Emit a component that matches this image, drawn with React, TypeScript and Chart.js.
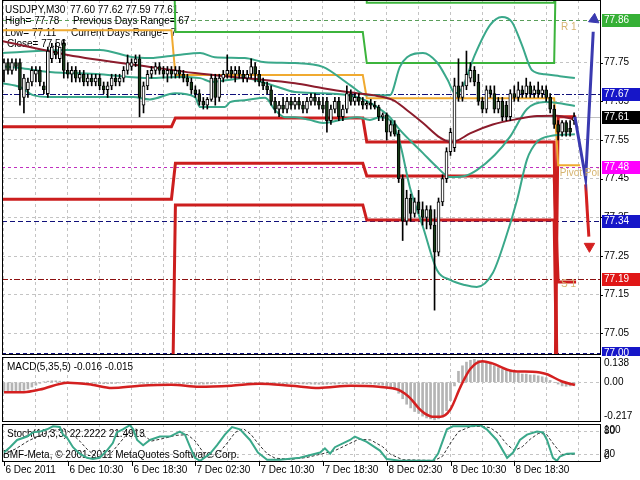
import { useEffect, useRef } from "react";
import { Chart, registerables } from "chart.js";
Chart.register(...registerables);

const FONT = "'Liberation Sans', Arial, sans-serif";

// ---------- candles (M30 bars, index 0..143) ----------
const OPEN = [
  77.73,77.75,77.73,77.75,77.75,77.66,77.68,77.70,77.72,77.73,
  77.69,77.67,77.76,77.78,77.76,77.80,77.73,77.72,77.73,77.71,
  77.72,77.70,77.71,77.70,77.71,77.69,77.68,77.69,77.71,77.70,
  77.71,77.73,77.74,77.75,77.76,77.64,77.69,77.72,77.73,77.74,
  77.73,77.72,77.73,77.72,77.73,77.72,77.71,77.70,77.68,77.67,
  77.65,77.64,77.655,77.71,77.66,77.71,77.72,77.73,77.72,77.73,
  77.72,77.71,77.72,77.74,77.72,77.70,77.69,77.68,77.65,77.63,
  77.64,77.63,77.65,77.64,77.65,77.64,77.63,77.65,77.66,77.65,
  77.64,77.65,77.60,77.63,77.65,77.61,77.63,77.67,77.65,77.66,
  77.65,77.64,77.645,77.64,77.635,77.61,77.615,77.57,77.59,77.565,
  77.45,77.34,77.40,77.36,77.39,77.37,77.35,77.37,77.33,77.26,
  77.39,77.45,77.52,77.53,77.69,77.66,77.69,77.71,77.73,77.70,
  77.65,77.63,77.68,77.67,77.63,77.65,77.64,77.61,77.67,77.66,
  77.68,77.67,77.69,77.67,77.68,77.67,77.68,77.66,77.63,77.59,
  77.57,77.595,77.58,77.60
];
const HIGH = [
  77.76,77.76,77.76,77.76,77.76,77.72,77.71,77.74,77.74,77.74,
  77.70,77.79,77.80,77.80,77.79,77.81,77.75,77.74,77.74,77.73,
  77.73,77.72,77.72,77.72,77.72,77.70,77.70,77.72,77.72,77.72,
  77.74,77.77,77.76,77.77,77.77,77.70,77.73,77.74,77.75,77.75,
  77.74,77.74,77.74,77.74,77.74,77.73,77.72,77.71,77.69,77.68,
  77.66,77.66,77.72,77.72,77.72,77.73,77.77,77.74,77.74,77.74,
  77.73,77.73,77.76,77.75,77.73,77.71,77.70,77.69,77.66,77.65,
  77.66,77.66,77.66,77.66,77.66,77.65,77.66,77.67,77.67,77.66,
  77.66,77.66,77.64,77.66,77.66,77.64,77.69,77.68,77.67,77.67,
  77.66,77.65,77.655,77.65,77.64,77.62,77.62,77.60,77.60,77.575,
  77.46,77.42,77.41,77.40,77.42,77.39,77.38,77.38,77.37,77.40,
  77.46,77.53,77.58,77.71,77.76,77.70,77.78,77.75,77.74,77.72,
  77.66,77.69,77.69,77.69,77.66,77.66,77.65,77.68,77.69,77.70,
  77.69,77.71,77.70,77.69,77.70,77.69,77.69,77.67,77.64,77.60,
  77.60,77.60,77.60,77.62
];
const LOW = [
  77.70,77.72,77.72,77.73,77.64,77.62,77.66,77.69,77.70,77.69,
  77.67,77.66,77.75,77.76,77.75,77.71,77.71,77.70,77.70,77.70,
  77.69,77.69,77.69,77.69,77.68,77.67,77.66,77.68,77.69,77.69,
  77.70,77.72,77.73,77.74,77.61,77.62,77.68,77.71,77.72,77.72,
  77.71,77.70,77.71,77.71,77.71,77.70,77.69,77.67,77.66,77.64,
  77.63,77.63,77.65,77.64,77.65,77.70,77.71,77.71,77.70,77.71,
  77.70,77.70,77.71,77.70,77.69,77.68,77.67,77.64,77.62,77.61,
  77.62,77.62,77.63,77.63,77.63,77.62,77.62,77.64,77.64,77.63,
  77.62,77.57,77.59,77.62,77.60,77.60,77.62,77.64,77.64,77.64,
  77.63,77.63,77.63,77.63,77.60,77.60,77.55,77.56,77.56,77.44,
  77.29,77.33,77.34,77.35,77.36,77.33,77.32,77.32,77.11,77.25,
  77.38,77.44,77.51,77.52,77.65,77.65,77.68,77.70,77.69,77.64,
  77.62,77.62,77.66,77.62,77.62,77.60,77.60,77.60,77.65,77.65,
  77.66,77.66,77.66,77.66,77.66,77.66,77.65,77.62,77.58,77.55,
  77.56,77.56,77.56,77.59
];
const CLOSE = [
  77.75,77.73,77.75,77.74,77.68,77.71,77.70,77.73,77.73,77.70,
  77.68,77.78,77.79,77.77,77.79,77.73,77.72,77.73,77.71,77.72,
  77.70,77.71,77.70,77.71,77.69,77.68,77.69,77.71,77.70,77.71,
  77.73,77.75,77.75,77.76,77.66,77.69,77.72,77.73,77.74,77.73,
  77.72,77.73,77.72,77.73,77.72,77.71,77.70,77.68,77.67,77.65,
  77.64,77.655,77.71,77.66,77.71,77.72,77.73,77.72,77.73,77.72,
  77.71,77.72,77.74,77.72,77.70,77.69,77.68,77.65,77.63,77.64,
  77.63,77.65,77.64,77.65,77.64,77.63,77.65,77.66,77.65,77.64,
  77.63,77.60,77.63,77.65,77.61,77.63,77.67,77.65,77.66,77.65,
  77.64,77.645,77.64,77.635,77.61,77.615,77.57,77.59,77.565,77.45,
  77.34,77.40,77.36,77.39,77.37,77.35,77.37,77.33,77.26,77.39,
  77.45,77.52,77.57,77.69,77.66,77.69,77.72,77.73,77.70,77.65,
  77.63,77.68,77.67,77.63,77.65,77.61,77.61,77.67,77.66,77.68,
  77.67,77.69,77.67,77.68,77.67,77.68,77.66,77.63,77.59,77.57,
  77.595,77.57,77.57,77.61
];

// ---------- indicator knots [bar, value] ----------
const BB_UPPER: [number, number][] = [
  [-0.5,77.775],[15.8,77.783],[24.1,77.783],[32.4,77.764],[36.6,77.762],[43.6,77.770],[49.2,77.775],
  [52.9,77.764],[60.4,77.762],[65.5,77.751],[73,77.749],[80,77.739],[86.8,77.692],[91,77.666],
  [96.8,77.666],[99.3,77.739],[101.1,77.764],[105.1,77.775],[108.6,77.751],[111.3,77.705],
  [113.1,77.671],[114.9,77.684],[118.1,77.770],[121.9,77.847],[124.9,77.868],[127.4,77.855],
  [129.9,77.796],[132.4,77.731],[135.7,77.720],[139.4,77.715],[143.2,77.710]
];
const BB_MIDDLE: [number, number][] = [
  [-0.5,77.741],[4,77.736],[11.5,77.726],[24.1,77.720],[36.6,77.710],[43.6,77.713],[49.2,77.710],
  [52.2,77.700],[56.2,77.705],[60.4,77.710],[64.7,77.700],[68.7,77.687],[73,77.674],[80,77.671],
  [88.5,77.661],[93.6,77.635],[96.8,77.609],[99.3,77.576],[105.1,77.516],[108.6,77.480],
  [111.9,77.454],[115.6,77.457],[118.6,77.472],[123.1,77.511],[126.9,77.558],[131.2,77.630],
  [135.7,77.648],[139.4,77.645],[143.2,77.638]
];
const BB_LOWER: [number, number][] = [
  [-0.5,77.697],[4,77.687],[7.3,77.666],[11.5,77.661],[24.1,77.661],[32.4,77.661],[36.6,77.655],
  [42.9,77.671],[47.9,77.661],[49.2,77.635],[55.4,77.635],[56.7,77.648],[60.4,77.653],[65.5,77.659],
  [68,77.627],[70.5,77.609],[73,77.609],[76.7,77.602],[80,77.594],[88.5,77.609],[91.8,77.602],
  [94.3,77.609],[96.8,77.602],[99.3,77.542],[101.8,77.428],[105.1,77.325],[108.6,77.214],
  [111.9,77.188],[115.6,77.175],[118.6,77.170],[122.6,77.206],[125.7,77.292],[128.7,77.395],
  [131.2,77.500],[133.7,77.545],[136.9,77.560],[143.2,77.565]
];
const MA_SLOW: [number, number][] = [
  [-0.5,77.806],[16,77.770],[36.6,77.739],[47.9,77.723],[60.4,77.710],[73,77.697],[80,77.684],
  [88.5,77.671],[93.6,77.664],[97.6,77.653],[101.1,77.627],[105.1,77.594],[109.4,77.556],
  [111.9,77.545],[113.6,77.548],[116.9,77.567],[122.6,77.590],[128.7,77.604],[133.7,77.612],
  [138.7,77.613],[143.2,77.602]
];

// daily levels (one value per day: 6 Dec, 7 Dec, 8 Dec, 9 Dec; null = not drawn) and day edges in bars
const DAY_EDGES = [42.5, 90.5, 138.5];
const ORANGE_LEVELS = [77.834, 77.718, 77.658, 77.485];
const GREEN_A_LEVELS = [78.3, 77.829, 77.749, 78.3];
const GREEN_B_LEVELS = [78.3, 78.3, 77.905, 78.3];
const RED_A_LEVELS = [77.584, 77.607, 77.545, 76.7];
const RED_B_LEVELS = [77.397, 77.490, 77.457, 77.183];
const RED_C_LEVELS = [76.7, 77.382, 77.343, 76.7];
const RED_D_LEVELS = [null, null, 76.7, 77.61];

// forecast arrows [bar, price]
const BLUE_ARROW: [number, number][] = [[143.2,77.61],[145.9,77.45],[147.8,77.83]];
const BLUE_HEAD: [number, number] = [148.0, 77.862];
const RED_ARROW: [number, number][] = [[145.9,77.435],[146.7,77.30]];
const RED_HEAD: [number, number] = [146.85, 77.275];

// horizontal price levels and tags
const LEVEL_PRICES = [77.86, 77.67, 77.61, 77.48, 77.34, 77.19, 77.00];
const MAIN_TICKS = [77.05, 77.15, 77.25, 77.35, 77.45, 77.55, 77.65, 77.75];

// ---------- MACD(5,35,5) ----------
const MACD_HIST = [
  -0.055,-0.055,-0.052,-0.05,-0.048,-0.044,-0.036,-0.026,-0.016,
  -0.006,0.002,0.006,0.008,0.008,0.006,0.004,0.002,0.0,-0.002,-0.004,-0.004,
  -0.005,-0.006,-0.006,-0.007,-0.008,-0.008,-0.007,-0.006,-0.004,-0.003,-0.002,-0.003,-0.004,-0.005,-0.006,-0.006,-0.005,-0.004,-0.004,-0.004,
  -0.004,-0.004,-0.005,-0.006,-0.007,-0.008,-0.009,-0.01,-0.01,-0.01,-0.009,-0.008,-0.006,-0.005,-0.004,-0.003,-0.002,-0.002,-0.002,-0.002,
  -0.002,-0.002,-0.003,-0.004,-0.005,-0.006,-0.007,-0.008,-0.008,-0.008,-0.008,-0.008,-0.008,-0.008,-0.009,-0.01,-0.01,-0.011,-0.011,-0.012,
  -0.011,-0.01,-0.01,-0.009,-0.008,-0.008,-0.007,-0.007,-0.007,-0.008,-0.008,-0.009,-0.01,-0.012,
  -0.016,-0.022,-0.03,-0.04,-0.06,-0.09,-0.12,-0.14,-0.16,-0.17,-0.185,-0.195,-0.2,-0.205,-0.2,-0.18,-0.155,-0.1,-0.02,
  0.06,0.09,0.11,0.12,0.125,0.12,0.115,0.105,0.1,0.09,0.08,0.07,0.065,0.06,0.055,0.05,0.045,0.045,0.04,0.04,0.035,0.03,0.025,0.01,
  0.0,-0.01,-0.02,-0.022,-0.02,-0.016
];
const MACD_SIGNAL: [number, number][] = [
  [0,-0.054],[5,-0.054],[9,-0.04],[16,-0.002],[22,-0.013],[27,-0.031],[34,-0.019],[42,-0.013],
  [49,-0.025],[57,-0.019],[64,-0.008],[72,-0.019],[79,-0.031],[87,-0.019],[94,-0.025],[99,-0.042],
  [102,-0.089],[104,-0.141],[105.5,-0.17],[107.5,-0.188],[109.5,-0.188],[112,-0.147],[114.5,-0.025],
  [117,0.074],[120,0.115],[122.5,0.103],[127.5,0.062],[132.5,0.057],[136,0.045],[140,0.004],[143.2,-0.015]
];
const MACD_TICKS = [0.138, 0.0, -0.217];

// ---------- Stochastic(10,3,3) ----------
const STOCH_K: [number, number][] = [
  [0,25],[1.5,39],[3.3,58],[5.8,67],[7.3,78],[9,80],[10.8,86],[12.3,94],[14,92],[14.8,72],[15.8,64],
  [17.3,39],[19,22],[20.8,11],[22.3,8],[24,11],[25.8,30],[27.3,50],[28.3,78],[29.8,86],[31.6,97],
  [32.4,86],[33.4,58],[34.9,44],[36.6,58],[39.1,67],[41.6,67],[44.1,80],[45.4,72],[46.7,39],[47.9,11],
  [49.2,3],[51.7,22],[53.4,44],[55.4,72],[57.2,92],[59.2,86],[61.7,58],[63.7,25],[66,6],[69.2,6],
  [74.2,11],[79.3,25],[80.5,36],[81.8,22],[83,39],[86.8,58],[88,67],[91,53],[94.3,30],[96,8],[99.3,3],
  [107.6,3],[108.9,22],[111.1,86],[112.6,94],[116.9,94],[119.4,97],[121.1,86],[123.6,58],[126.2,11],
  [127.7,25],[129.4,58],[131.2,72],[133.7,80],[135.2,78],[136.2,58],[137.7,11],[138.7,3],[139.4,14],
  [141.2,22],[143.2,22.2]
];
const STOCH_D: [number, number][] = [
  [0,20],[3,35],[6,55],[9,70],[12,82],[15,88],[17,75],[19,55],[21,32],[23,15],[25,12],[27,25],[29,50],
  [31,75],[33,88],[35,70],[37,55],[40,62],[43,70],[46,72],[48,55],[50,25],[52,12],[54,25],[56,50],
  [58,78],[60,88],[62,72],[64,45],[66,22],[68,10],[72,7],[76,12],[80,22],[83,30],[86,45],[89,60],
  [92,58],[95,40],[97,20],[100,6],[108,4],[110,15],[112,50],[114,80],[117,93],[120,94],[122,90],
  [124,75],[126,48],[128,30],[130,40],[132,60],[134,75],[136,74],[138,45],[140,20],[142,20],[143.2,21.5]
];
const STOCH_TICKS = [100, 80, 20, 0];

// ---------- time axis ----------
const GRID_BARS = [0, 8, 16, 24, 32, 40, 48, 56, 64, 72, 80, 88, 96, 104, 112, 120, 128, 136, 144];
const TIME_LABEL_BARS = [0, 16, 32, 48, 64, 80, 96, 112, 128];
const TIME_LABELS = ["6 Dec 2011", "6 Dec 10:30", "6 Dec 18:30", "7 Dec 02:30", "7 Dec 10:30",
  "7 Dec 18:30", "8 Dec 02:30", "8 Dec 10:30", "8 Dec 18:30"];

const X_MIN = -0.5;
const X_MAX = 149.5;

// ---------- helpers ----------
const pts = (k: [number, number][]) => k.map(([x, y]) => ({ x, y }));
function stepPoints(levels: (number | null)[], end: number) {
  const out: { x: number; y: number }[] = [];
  const first = levels.findIndex((v) => v !== null);
  out.push({ x: first === 0 ? X_MIN : DAY_EDGES[first - 1] + 0.5, y: levels[first] as number });
  for (let d = first; d < DAY_EDGES.length; d++) {
    out.push({ x: DAY_EDGES[d] - 0.5, y: levels[d] as number });
    out.push({ x: DAY_EDGES[d] + 0.5, y: levels[d + 1] as number });
  }
  out.push({ x: end, y: levels[levels.length - 1] as number });
  return out;
}
function text(ctx: CanvasRenderingContext2D, s: string, x: number, y: number, color = "#000",
  align: CanvasTextAlign = "left", base: CanvasTextBaseline = "middle", size = 10) {
  ctx.font = `${size}px ${FONT}`;
  ctx.fillStyle = color;
  ctx.textAlign = align;
  ctx.textBaseline = base;
  ctx.fillText(s, x, y);
}
function hline(ctx: CanvasRenderingContext2D, x0: number, x1: number, y: number, color: string, dash: number[], w = 1) {
  ctx.save();
  ctx.strokeStyle = color;
  ctx.lineWidth = w;
  ctx.setLineDash(dash);
  ctx.beginPath();
  const yy = Math.round(y) + 0.5;
  ctx.moveTo(x0, yy);
  ctx.lineTo(x1, yy);
  ctx.stroke();
  ctx.restore();
}
function border(chart: any) {
  const { ctx, chartArea: a } = chart;
  ctx.save();
  ctx.strokeStyle = "#000";
  ctx.lineWidth = 1;
  ctx.strokeRect(Math.round(a.left) + 0.5, Math.round(a.top) + 0.5, Math.round(a.right - a.left), Math.round(a.bottom - a.top) - 1);
  ctx.restore();
}

function xScale(height: number) {
  return {
    type: "linear" as const,
    min: X_MIN,
    max: X_MAX,
    offset: false,
    ticks: { display: false },
    grid: { color: "#c4c4c4", drawTicks: false, offset: false },
    border: { display: false, dash: [3, 3] },
    afterBuildTicks: (s: any) => { s.ticks = GRID_BARS.map((v) => ({ value: v })); },
    afterFit: (s: any) => { s.height = height; s.paddingLeft = 0; s.paddingRight = 0; },
  };
}
function yScale(min: number, max: number, ticks: number[]) {
  return {
    position: "right" as const,
    min,
    max,
    ticks: { display: false },
    grid: { color: "#c4c4c4", drawTicks: false },
    border: { display: false, dash: [3, 3] },
    afterBuildTicks: (s: any) => { s.ticks = ticks.map((v) => ({ value: v })); },
    afterFit: (s: any) => { s.width = 40; s.paddingTop = 0; s.paddingBottom = 0; },
  };
}

const LEVEL_STYLE = [
  { c: "#5a9e5a", d: [4, 3] },
  { c: "#10107a", d: [6, 2, 2, 2] },
  { c: "#c0c0c0", d: [] },
  { c: "#c030c0", d: [3, 3] },
  { c: "#10107a", d: [5, 3] },
  { c: "#8c1010", d: [6, 2, 2, 2] },
  { c: "#10107a", d: [4, 3] },
];
const TAG_BG = ["#36b036", "#1616c8", "#000000", "#ff00ff", "#1616c8", "#e01616", "#1616c8"];

const mainPlugin = {
  id: "mainDeco",
  beforeDatasetsDraw(chart: any) {
    const { ctx, chartArea: a, scales } = chart;
    const y = scales.y;
    ctx.save();
    ctx.beginPath();
    ctx.rect(a.left, a.top, a.right - a.left, a.bottom - a.top);
    ctx.clip();
    LEVEL_PRICES.forEach((p, i) => hline(ctx, a.left, a.right, y.getPixelForValue(p), LEVEL_STYLE[i].c, LEVEL_STYLE[i].d));
    text(ctx, "USDJPY,M30", 5, 10);
    text(ctx, "77.60 77.62 77.59 77.61", 70, 10);
    text(ctx, "High= 77.78", 5, 21);
    text(ctx, "Previous Days Range= 67", 73, 21);
    text(ctx, "Low= 77.11", 5, 33);
    text(ctx, "Current Days Range= 7", 71, 33);
    text(ctx, "Close= 77.56", 7, 44);
    ctx.restore();
  },
  afterDatasetsDraw(chart: any) {
    const { ctx, chartArea: a, scales } = chart;
    const x = scales.x, y = scales.y;
    ctx.save();
    ctx.beginPath();
    ctx.rect(a.left, a.top, a.right - a.left, a.bottom - a.top);
    ctx.clip();
    const tan = "#d6b470";
    text(ctx, "R 1", x.getPixelForValue(139.7), y.getPixelForValue(77.86) + 7, tan);
    text(ctx, "Pivot Point", x.getPixelForValue(139.4), y.getPixelForValue(77.48) + 6, tan);
    text(ctx, "S 1", x.getPixelForValue(139.7), y.getPixelForValue(77.19) + 5, tan);
    ctx.restore();
    border(chart);
  },
  afterDraw(chart: any) {
    const { ctx, chartArea: a, scales } = chart;
    const y = scales.y;
    ctx.save();
    MAIN_TICKS.forEach((v) => {
      const py = y.getPixelForValue(v);
      hline(ctx, a.right, a.right + 3, py, "#000", []);
      text(ctx, v.toFixed(2), a.right + 4, py);
    });
    LEVEL_PRICES.forEach((p, i) => {
      const py = Math.round(y.getPixelForValue(p));
      ctx.fillStyle = TAG_BG[i];
      ctx.fillRect(a.right + 2, py - 6, 38, 13);
      text(ctx, p.toFixed(2), a.right + 4, py + 0.5, "#ffffff");
    });
    ctx.restore();
  },
};

const macdPlugin = {
  id: "macdDeco",
  beforeDatasetsDraw(chart: any) {
    text(chart.ctx, "MACD(5,35,5) -0.016 -0.015", 7, 11);
  },
  afterDatasetsDraw(chart: any) { border(chart); },
  afterDraw(chart: any) {
    const { ctx, chartArea: a, scales } = chart;
    const y = scales.y;
    text(ctx, MACD_TICKS[0].toFixed(3), a.right + 4, a.top + 1, "#000", "left", "top");
    text(ctx, MACD_TICKS[1].toFixed(2), a.right + 4, y.getPixelForValue(MACD_TICKS[1]));
    text(ctx, MACD_TICKS[2].toFixed(3), a.right + 4, a.bottom - 1, "#000", "left", "bottom");
  },
};

const stochPlugin = {
  id: "stochDeco",
  beforeDatasetsDraw(chart: any) {
    text(chart.ctx, "Stoch(10,3,3) 22.2222 21.4913", 7, 11);
    text(chart.ctx, "BMF-Meta, \u00a9 2001-2011 MetaQuotes Software Corp.", 3, 32);
  },
  afterDatasetsDraw(chart: any) { border(chart); },
  afterDraw(chart: any) {
    const { ctx, chartArea: a, scales } = chart;
    const x = scales.x, y = scales.y;
    text(ctx, String(STOCH_TICKS[0]), a.right + 4, a.top + 1, "#000", "left", "top");
    text(ctx, String(STOCH_TICKS[1]), a.right + 4, y.getPixelForValue(STOCH_TICKS[1]));
    text(ctx, String(STOCH_TICKS[2]), a.right + 4, y.getPixelForValue(STOCH_TICKS[2]));
    text(ctx, String(STOCH_TICKS[3]), a.right + 4, a.bottom - 1, "#000", "left", "bottom");
    TIME_LABEL_BARS.forEach((b, i) => {
      const px = Math.round(x.getPixelForValue(b)) + 0.5;
      ctx.save();
      ctx.strokeStyle = "#000";
      ctx.beginPath();
      ctx.moveTo(px, a.bottom);
      ctx.lineTo(px, a.bottom + 4);
      ctx.stroke();
      ctx.restore();
      text(ctx, TIME_LABELS[i], px + 1, a.bottom + 8);
    });
  },
};

const baseOpts = (top: number, bottom: number) => ({
  animation: false as const,
  responsive: false,
  maintainAspectRatio: false,
  devicePixelRatio: 1,
  events: [] as any[],
  layout: { autoPadding: false, padding: { left: 2, right: 0, top, bottom } },
  plugins: { legend: { display: false }, tooltip: { enabled: false } },
});

function makeMain(canvas: HTMLCanvasElement) {
  const idx = OPEN.map((_, i) => i);
  const line = (data: any[], color: string, width: number, order: number, extra: any = {}) => ({
    type: "line" as const, data, borderColor: color, borderWidth: width, pointRadius: 0, fill: false, order, ...extra,
  });
  const smooth = { cubicInterpolationMode: "monotone" };
  const teal = "#3aa88a";
  return new Chart(canvas, {
    type: "bar",
    data: {
      datasets: [
        line(pts(BLUE_ARROW), "#3a3ab0", 3, 0),
        line([{ x: BLUE_HEAD[0], y: BLUE_HEAD[1] }], "#3a3ab0", 1, 0, {
          showLine: false, pointStyle: "triangle", pointRadius: 6, pointRotation: 6,
          pointBackgroundColor: "#3a3ab0", pointBorderColor: "#3a3ab0" }),
        line(pts(RED_ARROW), "#d42020", 3, 0),
        line([{ x: RED_HEAD[0], y: RED_HEAD[1] }], "#d42020", 1, 0, {
          showLine: false, pointStyle: "triangle", pointRadius: 6, pointRotation: 180,
          pointBackgroundColor: "#d42020", pointBorderColor: "#d42020" }),
        {
          type: "bar" as const,
          data: idx.map((i) => ({ x: i, y: [OPEN[i], CLOSE[i]] })),
          backgroundColor: idx.map((i) => (CLOSE[i] >= OPEN[i] ? "#ffffff" : "#163a16")),
          borderColor: "#000",
          borderWidth: 1,
          borderSkipped: false,
          barThickness: 3,
          minBarLength: 1,
          grouped: false,
          order: 1,
        },
        {
          type: "bar" as const,
          data: idx.map((i) => ({ x: i, y: [LOW[i], HIGH[i]] })),
          backgroundColor: "#000",
          barThickness: 1,
          grouped: false,
          order: 2,
        },
        line(pts(MA_SLOW), "#8c1c2c", 2, 3, smooth),
        line(pts(BB_UPPER), teal, 2, 4, smooth),
        line(pts(BB_MIDDLE), teal, 2, 4, smooth),
        line(pts(BB_LOWER), teal, 2, 4, smooth),
        line(stepPoints(ORANGE_LEVELS, 144.5), "#f0aa30", 2, 5),
        line(stepPoints(GREEN_A_LEVELS, 143.5), "#3cb43c", 2, 5),
        line(stepPoints(GREEN_B_LEVELS, 143.5), "#3cb43c", 2, 5),
        line(stepPoints(RED_A_LEVELS, 143.5), "#cc1e1e", 3, 5),
        line(stepPoints(RED_B_LEVELS, 143.5), "#cc1e1e", 3, 5),
        line(stepPoints(RED_C_LEVELS, 143.5), "#cc1e1e", 3, 5),
        line(stepPoints(RED_D_LEVELS, 143.5), "#cc1e1e", 3, 5),
      ] as any,
    },
    options: {
      ...baseOpts(0, 1),
      scales: { x: xScale(0), y: yScale(76.994, 77.912, MAIN_TICKS) },
    } as any,
    plugins: [mainPlugin],
  });
}

function makeMacd(canvas: HTMLCanvasElement) {
  return new Chart(canvas, {
    type: "bar",
    data: {
      datasets: [
        {
          type: "line" as const,
          data: pts(MACD_SIGNAL),
          borderColor: "#d42020",
          borderWidth: 2.5,
          pointRadius: 0,
          cubicInterpolationMode: "monotone",
          order: 0,
        },
        {
          type: "bar" as const,
          data: MACD_HIST.map((v, i) => ({ x: i, y: v })),
          backgroundColor: "#b4b4b4",
          barThickness: 2,
          grouped: false,
          order: 1,
        },
      ] as any,
    },
    options: {
      ...baseOpts(1, 1),
      scales: { x: xScale(0), y: yScale(-0.217, 0.138, [0]) },
    } as any,
    plugins: [macdPlugin],
  });
}

function makeStoch(canvas: HTMLCanvasElement) {
  return new Chart(canvas, {
    type: "line",
    data: {
      datasets: [
        { data: pts(STOCH_K), borderColor: "#3aa88a", borderWidth: 2, pointRadius: 0, order: 0 },
        { data: pts(STOCH_D), borderColor: "#303030", borderWidth: 1, borderDash: [3, 2], pointRadius: 0, order: 1 },
      ] as any,
    },
    options: {
      ...baseOpts(1, 0),
      scales: { x: xScale(18), y: yScale(0, 100, [20, 80]) },
    } as any,
    plugins: [stochPlugin],
  });
}

export default function App() {
  const mainRef = useRef<HTMLCanvasElement>(null);
  const macdRef = useRef<HTMLCanvasElement>(null);
  const stochRef = useRef<HTMLCanvasElement>(null);
  useEffect(() => {
    const charts = [makeMain(mainRef.current!), makeMacd(macdRef.current!), makeStoch(stochRef.current!)];
    return () => charts.forEach((c) => c.destroy());
  }, []);
  const cs = (top: number, h: number) => ({ position: "absolute" as const, left: 0, top, width: 640, height: h, display: "block" });
  return (
    <div style={{ position: "fixed", left: 0, top: 0, width: 640, height: 480, background: "#fff", overflow: "hidden" }}>
      <canvas ref={mainRef} width={640} height={356} style={cs(0, 356)} />
      <canvas ref={macdRef} width={640} height={67} style={cs(356, 67)} />
      <canvas ref={stochRef} width={640} height={57} style={cs(423, 57)} />
    </div>
  );
}
